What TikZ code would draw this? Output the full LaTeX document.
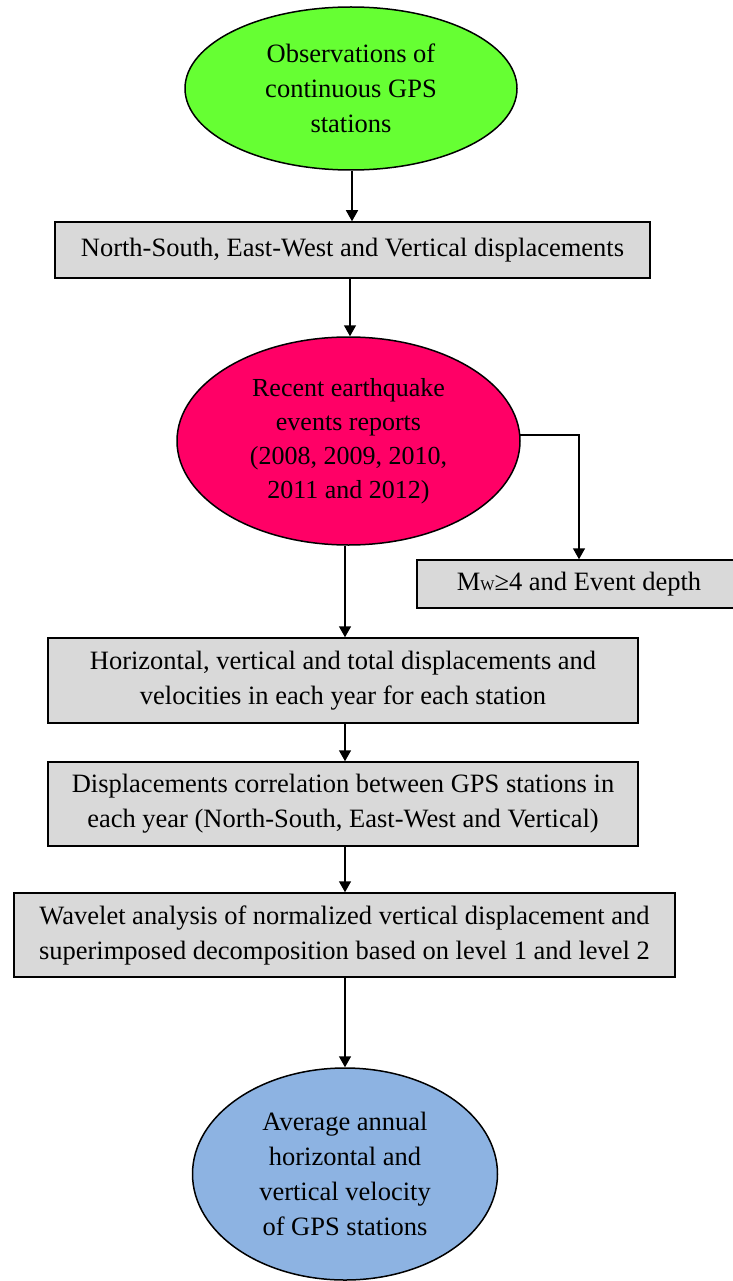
\documentclass[tikz,border=0pt]{standalone}
\usepackage{fontspec}
\setmainfont{Liberation Serif}
\usetikzlibrary{shapes.geometric,arrows.meta}
\definecolor{cgreen}{HTML}{66FF33}
\definecolor{cred}{HTML}{FF0066}
\definecolor{cblue}{HTML}{8DB3E2}
\definecolor{cgray}{HTML}{D9D9D9}
\begin{document}
\begin{tikzpicture}[x=1pt,y=-1pt,
  every node/.style={font=\fontsize{26.5}{35}\selectfont, align=center, inner sep=0pt},
  oval/.style={ellipse, draw=black, line width=1.5pt},
  graybox/.style={rectangle, draw=black, line width=1.5pt, fill=cgray},
  arr/.style={line width=1.5pt, -{Triangle[length=11pt,width=12pt]}}]
\useasboundingbox (0,0) rectangle (732,1281);
\node[oval, fill=cgreen, minimum width=332pt, minimum height=163pt] (obs) at (351,88.5)
  {Observations of\\continuous GPS\\stations};
\node[graybox, minimum width=595pt, minimum height=56pt] (disp) at (352.5,250)
  {North-South, East-West and Vertical displacements};
\node[oval, fill=cred, minimum width=343pt, minimum height=208pt,
  font=\fontsize{26}{34}\selectfont] (eq) at (348.5,441)
  {Recent earthquake\\events reports\\(2008, 2009, 2010,\\2011 and 2012)};
\node[graybox, minimum width=324pt, minimum height=48pt] (mw) at (579,584)
  {M{\fontsize{15}{15}\selectfont W}≥4 and Event depth};
\node[graybox, minimum width=590pt, minimum height=85pt] (hv) at (343,680.5)
  {Horizontal, vertical and total displacements and\\velocities in each year for each station};
\node[graybox, minimum width=590pt, minimum height=84pt] (corr) at (343,804)
  {Displacements correlation between GPS stations in\\each year (North-South, East-West and Vertical)};
\node[graybox, minimum width=661pt, minimum height=84pt] (wav) at (344.5,935)
  {Wavelet analysis of normalized vertical displacement and\\superimposed decomposition based on level 1 and level 2};
\node[oval, fill=cblue, minimum width=305pt, minimum height=212pt] (avg) at (345,1174)
  {Average annual\\horizontal and\\vertical velocity\\of GPS stations};
\draw[arr] (obs.south -| 352,0) -- (disp.north -| 352,0);
\draw[arr] (disp.south -| 350,0) -- (eq.north -| 350,0);
\draw[arr] (eq.2) -| (mw.north);
\draw[arr] (eq.south -| 345,0) -- (hv.north -| 345,0);
\draw[arr] (hv.south -| 345,0) -- (corr.north -| 345,0);
\draw[arr] (corr.south -| 345,0) -- (wav.north -| 345,0);
\draw[arr] (wav.south -| avg.north) -- (avg.north);
\end{tikzpicture}
\end{document}
